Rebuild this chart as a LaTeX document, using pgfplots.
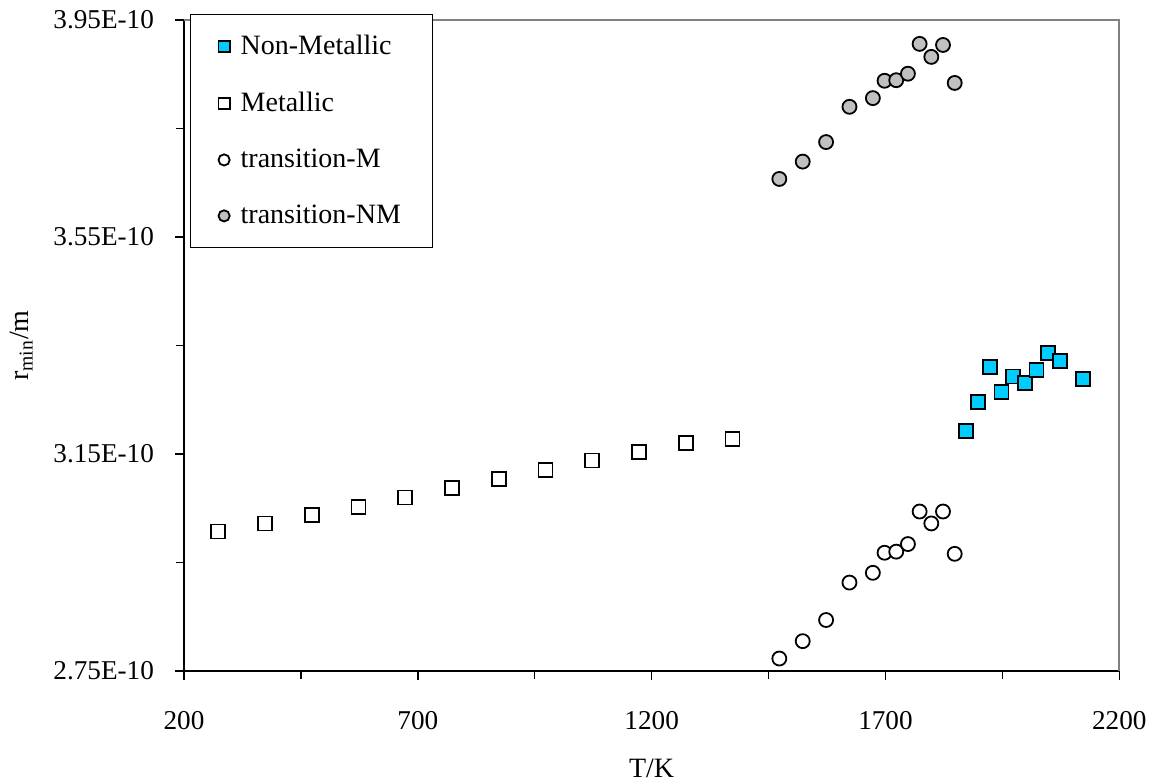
\documentclass[border=0pt]{standalone}
\usepackage{fontspec}
\setmainfont{Liberation Serif}
\usepackage{pgfplots}
\pgfplotsset{compat=1.18}
\definecolor{nmcyan}{HTML}{00CCFF}
\definecolor{tgray}{HTML}{C0C0C0}
\definecolor{bordergray}{HTML}{808080}
\begin{document}
\begin{tikzpicture}
\begin{axis}[
  scale only axis, width=467.65pt, height=325.5pt,
  xmin=200, xmax=2200, ymin=2.75e-10, ymax=3.95e-10,
  scaled y ticks=false, scaled x ticks=false,
  axis lines=left, axis line style={-, black, line width=0.75pt},
  tick align=outside, major tick length=4.5pt, minor tick length=4pt,
  tick style={black, line width=0.75pt},
  xtick={200,700,1200,1700,2200}, xticklabels={200,700,1200,1700,2200},
  minor xtick={450,950,1450,1950},
  ytick={2.75e-10,3.15e-10,3.55e-10,3.95e-10},
  yticklabels={2.75E-10,3.15E-10,3.55E-10,3.95E-10},
  minor ytick={2.95e-10,3.35e-10,3.75e-10},
  ticklabel style={font=\fontsize{13.6}{16}\selectfont},
  xticklabel style={yshift=-12pt},
  yticklabel style={xshift=-7pt},
  xlabel={T/K}, ylabel={r\textsubscript{min}/m},
  label style={font=\fontsize{14}{16}\selectfont},
  xlabel style={at={(axis description cs:0.5,-0.1635)}, anchor=base},
  ylabel style={at={(axis description cs:-0.1740,0.5)}, anchor=center},
  legend style={at={(axis description cs:0.00642,1.0092)}, anchor=north west,
    draw=black, line width=0.5pt, font=\fontsize{14}{16}\selectfont,
    row sep=13.2pt, inner xsep=14pt, inner ysep=8.5pt,
    /tikz/every odd column/.append style={column sep=3.5pt}},
  legend cell align=left,
  legend image code/.code={\draw[#1, mark size=2.8pt, line width=0.8pt] plot coordinates {(0cm,0cm)};},
  clip=false,
]
\draw[bordergray, line width=0.9pt] (rel axis cs:0,1) -- (rel axis cs:1,1) -- (rel axis cs:1,0);
\coordinate (bl) at (rel axis cs:0,0);
\coordinate (tr) at (rel axis cs:1,1);

\addplot[only marks, mark=square*, mark size=3.5pt, mark options={fill=nmcyan, draw=black, line width=0.9pt}] coordinates {
(1873,3.192e-10) (1898,3.246e-10) (1923,3.310e-10) (1948,3.265e-10) (1973,3.293e-10)
(1998,3.281e-10) (2023,3.305e-10) (2048,3.336e-10) (2073,3.321e-10) (2123,3.288e-10)};
\addlegendentry{Non-Metallic}

\addplot[only marks, mark=square*, mark size=3.5pt, mark options={fill=white, draw=black, line width=0.9pt}] coordinates {
(273,3.007e-10) (373,3.022e-10) (473,3.038e-10) (573,3.053e-10) (673,3.070e-10) (773,3.087e-10)
(873,3.104e-10) (973,3.121e-10) (1073,3.138e-10) (1173,3.154e-10) (1273,3.171e-10) (1373,3.178e-10)};
\addlegendentry{Metallic}

\addplot[only marks, mark=*, mark size=3.5pt, mark options={fill=white, draw=black, line width=0.9pt}] coordinates {
(1473,2.773e-10) (1523,2.805e-10) (1573,2.844e-10) (1623,2.913e-10) (1673,2.931e-10) (1698,2.968e-10)
(1723,2.970e-10) (1748,2.984e-10) (1773,3.044e-10) (1798,3.022e-10) (1823,3.044e-10) (1848,2.966e-10)};
\addlegendentry{transition-M}

\addplot[only marks, mark=*, mark size=3.5pt, mark options={fill=tgray, draw=black, line width=0.9pt}] coordinates {
(1473,3.657e-10) (1523,3.689e-10) (1573,3.725e-10) (1623,3.790e-10) (1673,3.806e-10) (1698,3.838e-10)
(1723,3.839e-10) (1748,3.851e-10) (1773,3.906e-10) (1798,3.882e-10) (1823,3.904e-10) (1848,3.834e-10)};
\addlegendentry{transition-NM}
\end{axis}
\pgfresetboundingbox
\useasboundingbox ([xshift=-92pt,yshift=-55.5pt]bl) rectangle ([xshift=17.35pt,yshift=10pt]tr);
\end{tikzpicture}
\end{document}
